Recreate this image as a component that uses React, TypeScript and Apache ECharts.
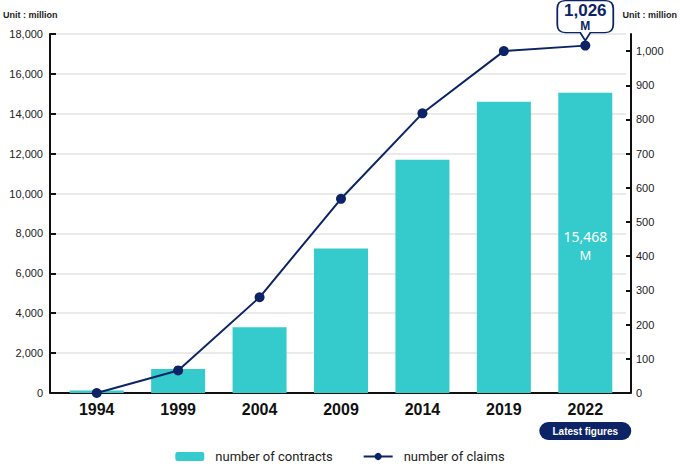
import React, { useEffect, useRef } from "react";
import * as echarts from "echarts";

const years = ["1994", "1999", "2004", "2009", "2014", "2019", "2022"];
const contracts = [130, 1200, 3300, 7250, 11700, 14600, 15050];
const claims = [0, 66, 280, 568, 818, 1000, 1016];
const rightTicks = [0, 100, 200, 300, 400, 500, 600, 700, 800, 900, 1000];
const contractsNote = "15,468";
const claimsNote = "1,026";
const latestLabel = "Latest figures";
const unitText = "Unit : million";
const seriesNames = ["number of contracts", "number of claims"];

const NAVY = "#0C2366";
const TEAL = "#35CACC";
const FONT = "'Liberation Sans', Arial, sans-serif";

export default function App() {
  const ref = useRef<HTMLDivElement>(null);
  useEffect(() => {
    document.body.style.margin = "0";
    if (!ref.current) return;
    const chart = echarts.init(ref.current, null, { renderer: "svg" });
    const last = years.length - 1;
    const unitStyle = { text: unitText, fontSize: 9, fontWeight: "bold", fill: "#222", fontFamily: FONT };
    const option: any = {
      animation: false,
      backgroundColor: "#fff",
      textStyle: { fontFamily: FONT },
      grid: { top: 34, bottom: 73, left: 56, right: 54 },
      graphic: [
        { type: "text", left: 3, top: 10, style: unitStyle },
        { type: "text", right: 3, top: 10, style: unitStyle },
      ],
      legend: {
        data: seriesNames,
        left: "center",
        top: 445,
        itemWidth: 29,
        itemHeight: 9,
        itemGap: 30,
        textStyle: { fontSize: 13, color: "#222", fontFamily: "Roboto", padding: [0, 0, 0, 6] },
      },
      xAxis: {
        type: "category",
        data: years,
        axisLine: { show: true, lineStyle: { color: "#111", width: 2 } },
        axisTick: { show: false },
        axisLabel: {
          interval: 0,
          margin: 6,
          formatter: (v: string) =>
            v === years[last] ? `{y|${v}}\n{p|${latestLabel}}` : `{y|${v}}`,
          rich: {
            y: { fontSize: 16, fontWeight: "bold", color: "#111", lineHeight: 20, fontFamily: FONT },
            p: {
              fontSize: 10,
              fontWeight: "bold",
              color: "#fff",
              backgroundColor: NAVY,
              borderRadius: 9,
              width: 92,
              height: 18,
              lineHeight: 24,
              align: "center",
              fontFamily: FONT,
            },
          },
        },
      },
      yAxis: [
        {
          type: "value",
          min: 0,
          max: 18000,
          interval: 2000,
          position: "left",
          offset: 6,
          axisLine: { show: true, lineStyle: { color: "#111", width: 2 } },
          axisTick: { show: true, inside: true, length: 6, lineStyle: { color: "#111", width: 2 } },
          axisLabel: { margin: 7, fontSize: 11, color: "#222", fontFamily: FONT },
          splitLine: { show: true, lineStyle: { color: "#E3E3E3", width: 1.5 } },
        },
        {
          type: "value",
          min: 0,
          max: 1050,
          interval: 100,
          position: "right",
          offset: 5,
          axisLine: { show: true, lineStyle: { color: "#111", width: 2 } },
          axisTick: {
            show: true,
            inside: true,
            length: 5,
            customValues: rightTicks,
            lineStyle: { color: "#111", width: 2 },
          },
          axisLabel: { margin: 5, fontSize: 11, color: "#222", fontFamily: FONT, customValues: rightTicks },
          splitLine: { show: false },
        },
      ],
      series: [
        {
          name: seriesNames[0],
          type: "bar",
          barWidth: 54,
          itemStyle: { color: TEAL },
          data: contracts.map((v, i) =>
            i === last
              ? {
                  value: v,
                  label: {
                    show: true,
                    position: "inside",
                    offset: [0, 2],
                    formatter: `{n|${contractsNote}}\n{m|M}`,
                    rich: {
                      n: { color: "#fff", fontSize: 14, lineHeight: 20, fontFamily: "'Noto Sans', Arial, sans-serif" },
                      m: { color: "#fff", fontSize: 13, lineHeight: 16, fontFamily: "'Noto Sans', Arial, sans-serif" },
                    },
                  },
                }
              : v
          ),
        },
        {
          name: seriesNames[1],
          type: "line",
          yAxisIndex: 1,
          z: 5,
          symbol: "circle",
          symbolSize: 10,
          itemStyle: { color: NAVY },
          lineStyle: { color: NAVY, width: 2 },
          data: claims,
          markPoint: {
            symbol:
              "path://M8,0 L48,0 Q56,0 56,8 L56,24 Q56,32 48,32 L33,32 L28,40 L23,32 L8,32 Q0,32 0,24 L0,8 Q0,0 8,0 Z",
            symbolSize: [56, 40],
            symbolOffset: [0, -25],
            itemStyle: { color: "#fff", borderColor: NAVY, borderWidth: 1.5 },
            label: {
              show: true,
              position: "inside",
              offset: [0, -3],
              formatter: `{a|${claimsNote}}\n{b|M}`,
              rich: {
                a: { fontSize: 17, fontWeight: "bold", color: NAVY, lineHeight: 17, fontFamily: FONT },
                b: { fontSize: 12, fontWeight: "bold", color: NAVY, lineHeight: 14, fontFamily: FONT },
              },
            },
            data: [{ coord: [last, claims[last]] }],
          },
        },
      ],
    };
    chart.setOption(option);
    return () => chart.dispose();
  }, []);
  return <div ref={ref} style={{ width: 680, height: 466 }} />;
}
